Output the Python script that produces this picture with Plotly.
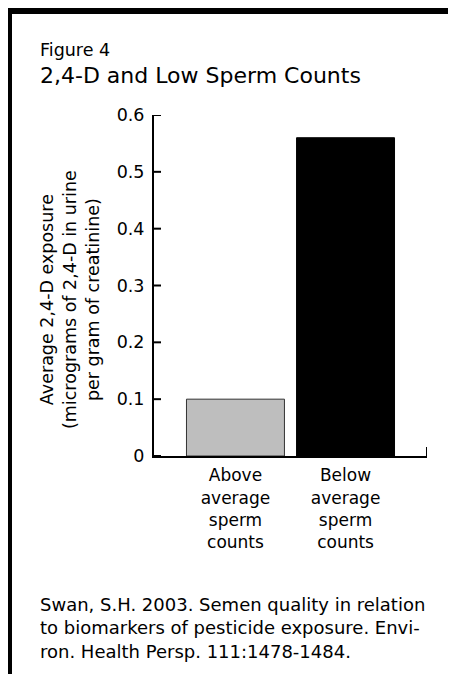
import plotly.graph_objects as go

# ---- data ----
categories = ["Above<br>average<br>sperm<br>counts", "Below<br>average<br>sperm<br>counts"]
exposure = [0.10, 0.56]
bar_colors = ["#bebebe", "#000000"]
y_ticks = [0, 0.1, 0.2, 0.3, 0.4, 0.5, 0.6]
y_ticktext = ["0", "0.1", "0.2", "0.3", "0.4", "0.5", "0.6"]

W, H = 456, 674
OFF = 8  # page offset of the figure
L, R, T, B = 146, 37, 107, 226
PW, PH = W - L - R, H - T - B
FONT = "DejaVu Sans"

def px_x(px):
    return (px - OFF - L) / PW

def px_y(py):
    return 1 - (py - OFF - T) / PH

x_pos = [0, 1]
XR = [-0.74, 1.74]
YR = [0, 0.6]

fig = go.Figure()
fig.add_trace(go.Bar(
    x=x_pos, y=exposure, width=0.89,
    marker=dict(color=bar_colors, line=dict(color=["#333333", "#000000"], width=1)),
    hoverinfo="skip",
))

fig.update_layout(
    width=W, height=H,
    margin=dict(l=L, r=R, t=T, b=B, pad=0),
    paper_bgcolor="white", plot_bgcolor="white",
    showlegend=False,
    font=dict(family=FONT, color="black", size=18),
    xaxis=dict(
        range=XR, tickvals=x_pos, ticktext=categories,
        showline=True, linewidth=2, linecolor="black",
        ticks="", showgrid=False, zeroline=False,
        tickfont=dict(size=17), ticklabelstandoff=3,
    ),
    yaxis=dict(
        range=YR, tickvals=y_ticks, ticktext=y_ticktext,
        showline=True, linewidth=2, linecolor="black",
        ticks="", showgrid=False, zeroline=False,
        tickfont=dict(size=17.5), ticklabelstandoff=4,
    ),
)

# inward-pointing y ticks, placed through the y scale
for v in y_ticks:
    fig.add_shape(type="line", xref="x", yref="y", xsizemode="pixel", xanchor=XR[0],
                  x0=-1, x1=7, y0=v, y1=v, line=dict(color="black", width=2))

# end tick of x axis
fig.add_shape(type="line", xref="x", yref="y", x0=XR[1], x1=XR[1],
              ysizemode="pixel", yanchor=0, y0=0, y1=9,
              line=dict(color="black", width=2))

# frame (top and left border)
fig.add_shape(type="rect", xref="paper", yref="paper",
              x0=px_x(9), x1=px_x(480), y0=px_y(11), y1=px_y(700),
              line=dict(color="black", width=6), fillcolor="rgba(0,0,0,0)")

ann = []
ann.append(dict(text="Figure 4", x=px_x(38), y=px_y(50), xanchor="left", yanchor="middle",
                font=dict(size=17.5)))
ann.append(dict(text="2,4-D and Low Sperm Counts", x=px_x(38), y=px_y(75), xanchor="left",
                yanchor="middle", font=dict(size=22)))
ann.append(dict(text="Average 2,4-D exposure<br>(micrograms of 2,4-D in urine<br>per gram of creatinine)",
                x=px_x(70), y=px_y(300), xanchor="center", yanchor="middle", textangle=-90,
                font=dict(size=17.5)))
ann.append(dict(text="Swan, S.H. 2003. Semen quality in relation<br>to biomarkers of pesticide exposure. Envi-<br>ron. Health Persp. 111:1478-1484.",
                x=px_x(38), y=px_y(628), xanchor="left", yanchor="middle", align="left",
                font=dict(size=18)))
for a in ann:
    a.update(xref="paper", yref="paper", showarrow=False)
fig.update_layout(annotations=ann)

fig.write_html("out.html")
